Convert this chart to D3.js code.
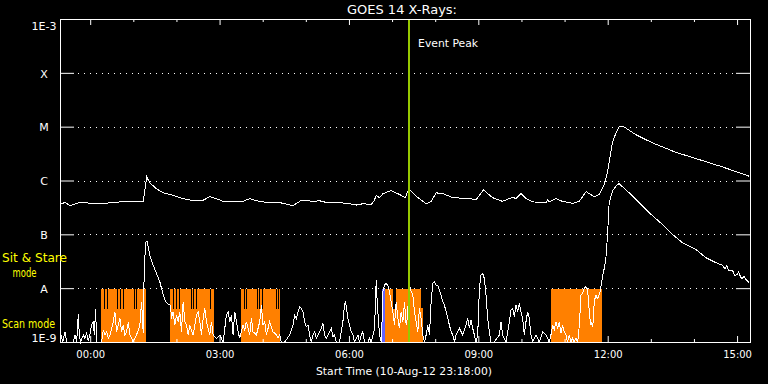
<!DOCTYPE html>
<html><head><meta charset="utf-8">
<script src="https://cdn.jsdelivr.net/npm/d3@7"></script>
<style>body{margin:0;background:#000}svg{display:block}text{font-family:"DejaVu Sans",sans-serif}</style>
</head><body><svg id="c" width="768" height="384"></svg>
<script>
// ---------------- data ----------------
const titleText = "GOES 14 X-Rays:";
const xAxisTitle = "Start Time (10-Aug-12 23:18:00)";
const eventLabel = "Event Peak";
const modeLabels = ["Sit & Stare", "mode", "Scan mode"];
const timeDomain = [0, 16];                // hours after 10-Aug-12 23:18:00
const majorTickHours = [0.7, 3.7, 6.7, 9.7, 12.7, 15.7];
const majorTickLabels = ["00:00", "03:00", "06:00", "09:00", "12:00", "15:00"];
const minorTickHours = [1.7, 2.7, 4.7, 5.7, 7.7, 8.7, 10.7, 11.7, 13.7, 14.7];
const fluxDomain = [1e-9, 1e-3];
const classLevels = [1e-3, 1e-4, 1e-5, 1e-6, 1e-7, 1e-8, 1e-9];
const classLabels = ["1E-3", "X", "M", "C", "B", "A", "1E-9"];
const gridLevels = [1e-4, 1e-5, 1e-6, 1e-7, 1e-8];
const eventPeakHour = 8.06;

// GOES long channel (1-8 A), [hours, W/m^2]
const longChannel = [[0.02,3.7e-7],[0.12,3.9e-7],[0.23,3.4e-7],[0.46,3.9e-7],[0.93,3.7e-7],[1.39,4.0e-7],[1.85,4.0e-7],[1.93,4.0e-7],[2.01,1.17e-6],[2.08,9.1e-7],[2.24,7.0e-7],[2.39,5.9e-7],[2.62,5.3e-7],[2.86,4.6e-7],[3.09,4.2e-7],[3.32,4.3e-7],[3.47,5.0e-7],[3.63,4.6e-7],[3.78,4.1e-7],[4.24,4.1e-7],[4.40,4.6e-7],[4.55,4.2e-7],[4.79,3.9e-7],[5.09,3.9e-7],[5.40,3.4e-7],[5.60,4.3e-7],[5.87,4.1e-7],[6.02,4.2e-7],[6.18,3.9e-7],[6.48,3.9e-7],[6.71,3.7e-7],[6.87,3.5e-7],[7.02,3.7e-7],[7.22,3.6e-7],[7.29,4.3e-7],[7.33,5.3e-7],[7.41,4.8e-7],[7.49,5.7e-7],[7.68,6.5e-7],[7.87,5.5e-7],[8.01,4.8e-7],[8.04,5.7e-7],[8.10,6.8e-7],[8.30,4.8e-7],[8.49,3.7e-7],[8.61,4.1e-7],[8.72,5.9e-7],[8.88,5.7e-7],[9.11,4.8e-7],[9.49,4.6e-7],[9.65,4.4e-7],[9.82,6.7e-7],[10.03,4.8e-7],[10.26,4.1e-7],[10.50,4.9e-7],[10.57,4.6e-7],[10.69,5.7e-7],[10.81,4.6e-7],[10.96,4.0e-7],[11.27,3.9e-7],[11.31,4.4e-7],[11.35,4.0e-7],[11.50,4.6e-7],[11.65,4.1e-7],[11.89,3.75e-7],[12.04,4.1e-7],[12.20,6.2e-7],[12.39,5.0e-7],[12.50,5.5e-7],[12.62,8.4e-7],[12.70,1.49e-6],[12.73,2.13e-6],[12.81,4.99e-6],[12.89,7.64e-6],[12.97,1.01e-5],[13.08,9.9e-6],[13.35,7.11e-6],[13.74,4.99e-6],[14.28,3.34e-6],[14.82,2.45e-6],[15.36,1.79e-6],[15.98,1.20e-6]];

// GOES short channel (0.5-4 A), [hours, W/m^2]
const shortChannel = [[0.023,1.35e-9],[0.062,1e-9],[0.116,1.55e-9],[0.154,1e-9],[0.309,1e-9],[0.347,1.35e-9],[0.386,1e-9],[0.424,3.25e-9],[0.448,1.35e-9],[0.479,1e-9],[0.540,1.35e-9],[0.579,1.17e-9],[0.617,1.45e-9],[0.656,1.05e-9],[0.695,1.4e-9],[0.733,2.06e-9],[0.772,2.45e-9],[0.795,1.35e-9],[0.826,4.1e-9],[0.849,1e-9],[0.965,1e-9],[1.003,1.67e-9],[1.042,1.35e-9],[1.081,1.55e-9],[1.119,1.17e-9],[1.158,1.35e-9],[1.235,2.38e-9],[1.273,3.64e-9],[1.312,1.55e-9],[1.389,2.74e-9],[1.428,1.55e-9],[1.466,2.06e-9],[1.505,1.35e-9],[1.544,1.55e-9],[1.582,2.3e-9],[1.621,1.35e-9],[1.659,1.17e-9],[1.698,1e-9],[1.775,1.35e-9],[1.852,2.06e-9],[1.891,5.58e-9],[1.930,1.5e-9],[1.953,2.31e-8],[1.976,4.71e-8],[1.991,7.21e-8],[2.022,7.42e-8],[2.045,5.83e-8],[2.084,4.08e-8],[2.161,2.67e-8],[2.238,1.87e-8],[2.315,1.31e-8],[2.354,9.86e-9],[2.393,7.42e-9],[2.454,5.58e-9],[2.508,4.98e-9],[2.562,4.84e-9],[2.586,2.74e-9],[2.624,3.64e-9],[2.663,2.06e-9],[2.701,3.16e-9],[2.740,2.38e-9],[2.778,3.64e-9],[2.817,1.55e-9],[2.856,5.58e-9],[2.894,2.38e-9],[2.933,2.06e-9],[2.971,1.35e-9],[3.010,2.06e-9],[3.087,1.35e-9],[3.164,3.16e-9],[3.203,3.64e-9],[3.242,2.38e-9],[3.280,1.35e-9],[3.319,2.74e-9],[3.357,4.2e-9],[3.396,2.38e-9],[3.473,1.35e-9],[3.512,2.38e-9],[3.550,1.35e-9],[3.627,1.17e-9],[3.705,1.35e-9],[3.782,1e-9],[3.859,3.16e-9],[3.898,3.64e-9],[3.936,2.38e-9],[3.975,3.16e-9],[4.013,1.35e-9],[4.052,3.64e-9],[4.091,2.38e-9],[4.129,1.55e-9],[4.168,1.17e-9],[4.206,1.55e-9],[4.245,2.06e-9],[4.283,1.67e-9],[4.322,2.38e-9],[4.361,1.79e-9],[4.399,1.35e-9],[4.438,2.74e-9],[4.476,1.55e-9],[4.554,1.35e-9],[4.631,2.38e-9],[4.669,4.84e-9],[4.708,2.06e-9],[4.746,2.38e-9],[4.785,1.35e-9],[4.824,1.79e-9],[4.862,2.38e-9],[4.940,1.55e-9],[5.017,1.35e-9],[5.055,1.17e-9],[5.094,1.35e-9],[5.132,1e-9],[5.210,1e-9],[5.325,1.35e-9],[5.403,2.06e-9],[5.441,3.16e-9],[5.480,2.74e-9],[5.518,3.64e-9],[5.557,4.51e-9],[5.596,4.2e-9],[5.634,3.64e-9],[5.673,2.38e-9],[5.711,1.92e-9],[5.750,2.06e-9],[5.789,1.35e-9],[5.827,1e-9],[5.866,1.35e-9],[5.904,1.55e-9],[5.943,1.17e-9],[5.981,1.35e-9],[6.020,1.55e-9],[6.059,1.79e-9],[6.097,2.22e-9],[6.136,1.35e-9],[6.174,1.17e-9],[6.213,1.35e-9],[6.252,1.55e-9],[6.290,1.79e-9],[6.329,1.26e-9],[6.367,1.35e-9],[6.406,1e-9],[6.483,1e-9],[6.522,1.55e-9],[6.560,2.38e-9],[6.599,5.2e-9],[6.622,5.58e-9],[6.653,3.64e-9],[6.676,2.74e-9],[6.715,2.06e-9],[6.753,1.55e-9],[6.792,1.35e-9],[6.830,1e-9],[6.908,1.35e-9],[6.946,1e-9],[6.985,1.35e-9],[7.023,1.55e-9],[7.062,1e-9],[7.139,1e-9],[7.178,1.17e-9],[7.216,1e-9],[7.294,1.79e-9],[7.332,1.41e-8],[7.355,5.58e-9],[7.386,2.38e-9],[7.409,1.35e-9],[7.448,1e-9],[7.471,2.74e-9],[7.487,8.55e-9],[7.525,1.14e-8],[7.564,1.22e-8],[7.602,1.14e-8],[7.641,8.55e-9],[7.680,5.58e-9],[7.718,3.64e-9],[7.757,2.06e-9],[7.795,5.58e-9],[7.834,2.74e-9],[7.872,1.79e-9],[7.911,3.64e-9],[7.950,2.38e-9],[7.988,5.58e-9],[8.027,2.06e-9],[8.065,3.16e-9],[8.088,2.01e-8],[8.119,9.86e-9],[8.181,7.42e-9],[8.220,3.64e-9],[8.258,2.38e-9],[8.297,1.55e-9],[8.335,4.2e-9],[8.374,2.74e-9],[8.413,1.35e-9],[8.451,1e-9],[8.490,1.35e-9],[8.528,2.06e-9],[8.567,1.35e-9],[8.606,5.58e-9],[8.644,1.22e-8],[8.683,1.31e-8],[8.721,1.14e-8],[8.760,1.14e-8],[8.799,9.18e-9],[8.837,7.42e-9],[8.876,5.58e-9],[8.914,4.84e-9],[8.953,3.64e-9],[8.992,2.74e-9],[9.030,2.06e-9],[9.069,1.55e-9],[9.107,1.35e-9],[9.146,1e-9],[9.184,1.35e-9],[9.262,1.79e-9],[9.339,1.35e-9],[9.416,2.06e-9],[9.455,2.74e-9],[9.493,1.79e-9],[9.532,2.56e-9],[9.570,1.79e-9],[9.609,1.35e-9],[9.647,1e-9],[9.686,1.35e-9],[9.725,9.86e-9],[9.763,1.74e-8],[9.802,1.87e-8],[9.840,1.51e-8],[9.879,7.42e-9],[9.918,2.74e-9],[9.956,1.55e-9],[9.995,1e-9],[10.072,1e-9],[10.188,1.35e-9],[10.226,2.38e-9],[10.265,1.35e-9],[10.342,1e-9],[10.419,2.38e-9],[10.458,3.91e-9],[10.497,4.2e-9],[10.535,2.94e-9],[10.574,4.84e-9],[10.612,3.64e-9],[10.651,5.2e-9],[10.689,3.64e-9],[10.728,2.74e-9],[10.767,1.35e-9],[10.805,2.38e-9],[10.844,3.64e-9],[10.882,2.74e-9],[10.921,1.35e-9],[10.960,1e-9],[11.037,1.35e-9],[11.114,1e-9],[11.191,1.55e-9],[11.268,1.35e-9],[11.346,1e-9],[11.384,1.35e-9],[11.423,2.06e-9],[11.461,1.67e-9],[11.500,2.38e-9],[11.539,1.79e-9],[11.577,2.38e-9],[11.616,1.45e-9],[11.654,2.06e-9],[11.693,1.55e-9],[11.731,1.35e-9],[11.770,1e-9],[11.809,1.35e-9],[11.847,1e-9],[11.886,1.17e-9],[11.924,1e-9],[11.963,1.17e-9],[12.002,1e-9],[12.025,1.35e-9],[12.056,3.16e-9],[12.079,7.42e-9],[12.117,7.96e-9],[12.156,9.86e-9],[12.195,1.06e-8],[12.218,9.86e-9],[12.233,9.86e-9],[12.256,5.58e-9],[12.287,2.74e-9],[12.310,2.06e-9],[12.333,2.38e-9],[12.349,1.92e-9],[12.372,2.74e-9],[12.387,5.58e-9],[12.426,7.42e-9],[12.465,6.44e-9],[12.488,6.92e-9],[12.526,8.55e-9],[12.542,1.06e-8],[12.580,1.62e-8],[12.619,2.31e-8],[12.658,3.54e-8],[12.696,9.58e-8],[12.734,3.86e-7],[12.811,6.34e-7],[12.890,7.84e-7],[12.966,8.8e-7],[13.043,7.64e-7],[13.198,5.9e-7],[13.429,3.86e-7],[13.661,2.52e-7],[13.968,1.53e-7],[14.200,1.0e-7],[14.431,7.02e-8],[14.742,5.27e-8],[14.973,3.70e-8],[15.205,2.99e-8],[15.358,2.67e-8],[15.42,2.3e-8],[15.46,2.6e-8],[15.513,2.09e-8],[15.60,2.1e-8],[15.65,1.7e-8],[15.705,1.82e-8],[15.74,2.0e-8],[15.784,1.58e-8],[15.82,1.5e-8],[15.86,1.7e-8],[15.900,1.47e-8],[15.976,1.28e-8]];

// observing-mode bars: [start hour, end hour]
const orangeSpans = [[0.951,1.987],[2.558,3.564],[4.197,5.094],[7.536,8.371],[11.386,12.561]];
const blueSpans = [[7.459,7.536]];
const modeTop = 1e-8;
const modeLow = 4.2e-9;
const lowSpans = [[8.371,8.425]];
const notchHours = [1.031,1.089,1.332,1.390,1.460,1.715,1.773, 2.625,2.688,2.757,3.035,3.088,3.151,3.476, 4.270,4.310,4.558,4.618,4.680,4.998,5.058];
const notchSpans = [[7.716,7.797]];

// ---------------- drawing ----------------
const svg = d3.select("#c");
svg.append("rect").attr("width",768).attr("height",384).attr("fill","#000");

const x = d3.scaleLinear().domain(timeDomain).range([60, 750]);
const y = d3.scaleLog().domain(fluxDomain).range([342, 19]).clamp(true);

// dotted grid
const grid = svg.append("g").attr("shape-rendering","crispEdges");
grid.selectAll("line").data(gridLevels).join("line")
  .attr("x1",78).attr("x2",736)
  .attr("y1",d=>Math.round(y(d))+0.5).attr("y2",d=>Math.round(y(d))+0.5)
  .attr("stroke","#fff").attr("stroke-width",1).attr("stroke-dasharray","1 5");

// mode bars
const bars = svg.append("g").attr("shape-rendering","crispEdges");
const spanX = d=>Math.round(x(d[0])), spanW = d=>Math.round(x(d[1]))-Math.round(x(d[0]));
bars.selectAll("rect.o").data(orangeSpans).join("rect").attr("class","o")
  .attr("x",spanX).attr("width",spanW)
  .attr("y",Math.round(y(modeTop))+0.5).attr("height",y(1e-9)-y(modeTop))
  .attr("fill","#ff8000");
bars.selectAll("rect.l").data(lowSpans).join("rect").attr("class","l")
  .attr("x",spanX).attr("width",spanW)
  .attr("y",Math.round(y(modeLow))).attr("height",y(1e-9)-y(modeLow))
  .attr("fill","#ff8000");
bars.selectAll("rect.b").data(blueSpans).join("rect").attr("class","b")
  .attr("x",spanX).attr("width",spanW)
  .attr("y",Math.round(y(modeTop))+0.5).attr("height",y(1e-9)-y(modeTop))
  .attr("fill","#6464ff");
bars.selectAll("rect.n").data(notchHours).join("rect").attr("class","n")
  .attr("x",d=>Math.round(x(d))).attr("width",1)
  .attr("y",Math.round(y(modeTop))+1).attr("height",y(modeLow)-y(modeTop))
  .attr("fill","#000");
bars.selectAll("rect.ns").data(notchSpans).join("rect").attr("class","ns")
  .attr("x",spanX).attr("width",spanW)
  .attr("y",Math.round(y(modeTop))+1).attr("height",y(modeLow)-y(modeTop))
  .attr("fill","#000");

// curves
const line = d3.line().x(d=>x(d[0])).y(d=>y(d[1]));
const curves = svg.append("g").attr("fill","none").attr("stroke","#fff").attr("stroke-width",1)
  .attr("shape-rendering","crispEdges");
curves.append("path").attr("d",line(longChannel));
curves.append("path").attr("d",line(shortChannel));

// frame
svg.append("rect").attr("x",60.5).attr("y",19.5).attr("width",690).attr("height",323)
  .attr("fill","none").attr("stroke","#fff").attr("shape-rendering","crispEdges");

// axes
function styleAxis(g){
  g.select(".domain").remove();
  g.selectAll(".tick line").attr("stroke","#fff");
  g.selectAll("text").attr("fill","#fff").attr("font-family","DejaVu Sans, sans-serif");
}
svg.append("g").attr("transform","translate(0,342)")
  .call(d3.axisBottom(x).tickValues(majorTickHours).tickSize(-6).tickPadding(9)
    .tickFormat((d,i)=>majorTickLabels[i]))
  .call(styleAxis).selectAll("text").attr("font-size",10);
svg.append("g").attr("transform","translate(0,342)")
  .call(d3.axisBottom(x).tickValues(minorTickHours).tickSize(-3).tickFormat(""))
  .call(styleAxis);
svg.append("g").attr("transform","translate(0,19)")
  .call(d3.axisTop(x).tickValues(majorTickHours).tickSize(-6).tickFormat(""))
  .call(styleAxis);
svg.append("g").attr("transform","translate(0,19)")
  .call(d3.axisTop(x).tickValues(minorTickHours).tickSize(-3).tickFormat(""))
  .call(styleAxis);
const yl = svg.append("g").attr("transform","translate(60,0)")
  .call(d3.axisLeft(y).tickValues(classLevels).tickSize(-14).tickPadding(16)
    .tickFormat((d,i)=>classLabels[i]))
  .call(styleAxis);
yl.selectAll("text").attr("text-anchor","middle").attr("font-size",11)
  .attr("dy",(d,i)=> i===0 ? "0.95em" : (i===classLevels.length-1 ? "-0.05em" : "0.38em"));
yl.selectAll(".tick").filter((d,i)=>i===0||i===classLevels.length-1).select("line").remove();
svg.append("g").attr("transform","translate(750,0)")
  .call(d3.axisRight(y).tickValues(gridLevels).tickSize(-14).tickFormat(""))
  .call(styleAxis);

// event peak
svg.append("rect").attr("x",Math.round(x(eventPeakHour))).attr("width",2)
  .attr("y",20).attr("height",322).attr("fill","#96c800");
svg.append("text").attr("x",x(eventPeakHour)+10.5).attr("y",46.5)
  .attr("fill","#fff").attr("font-size",11).attr("textLength",60).attr("lengthAdjust","spacingAndGlyphs")
  .text(eventLabel);

// titles
svg.append("text").attr("x",402).attr("y",13.5).attr("text-anchor","middle")
  .attr("fill","#fff").attr("font-size",12).attr("textLength",110).attr("lengthAdjust","spacingAndGlyphs")
  .text(titleText);
svg.append("text").attr("x",404).attr("y",375).attr("text-anchor","middle")
  .attr("fill","#fff").attr("font-size",10).attr("textLength",176).attr("lengthAdjust","spacingAndGlyphs")
  .text(xAxisTitle);

// mode labels
const yellow = "#ffff00";
svg.append("text").attr("x",2).attr("y",261.5).attr("fill",yellow).attr("font-size",12)
  .attr("textLength",65).attr("lengthAdjust","spacingAndGlyphs").text(modeLabels[0]);
svg.append("text").attr("x",24.5).attr("y",276.5).attr("text-anchor","middle").attr("fill",yellow).attr("font-size",12)
  .attr("textLength",24).attr("lengthAdjust","spacingAndGlyphs").text(modeLabels[1]);
svg.append("text").attr("x",2).attr("y",327.5).attr("fill",yellow).attr("font-size",12)
  .attr("textLength",53).attr("lengthAdjust","spacingAndGlyphs").text(modeLabels[2]);
</script></body></html>
